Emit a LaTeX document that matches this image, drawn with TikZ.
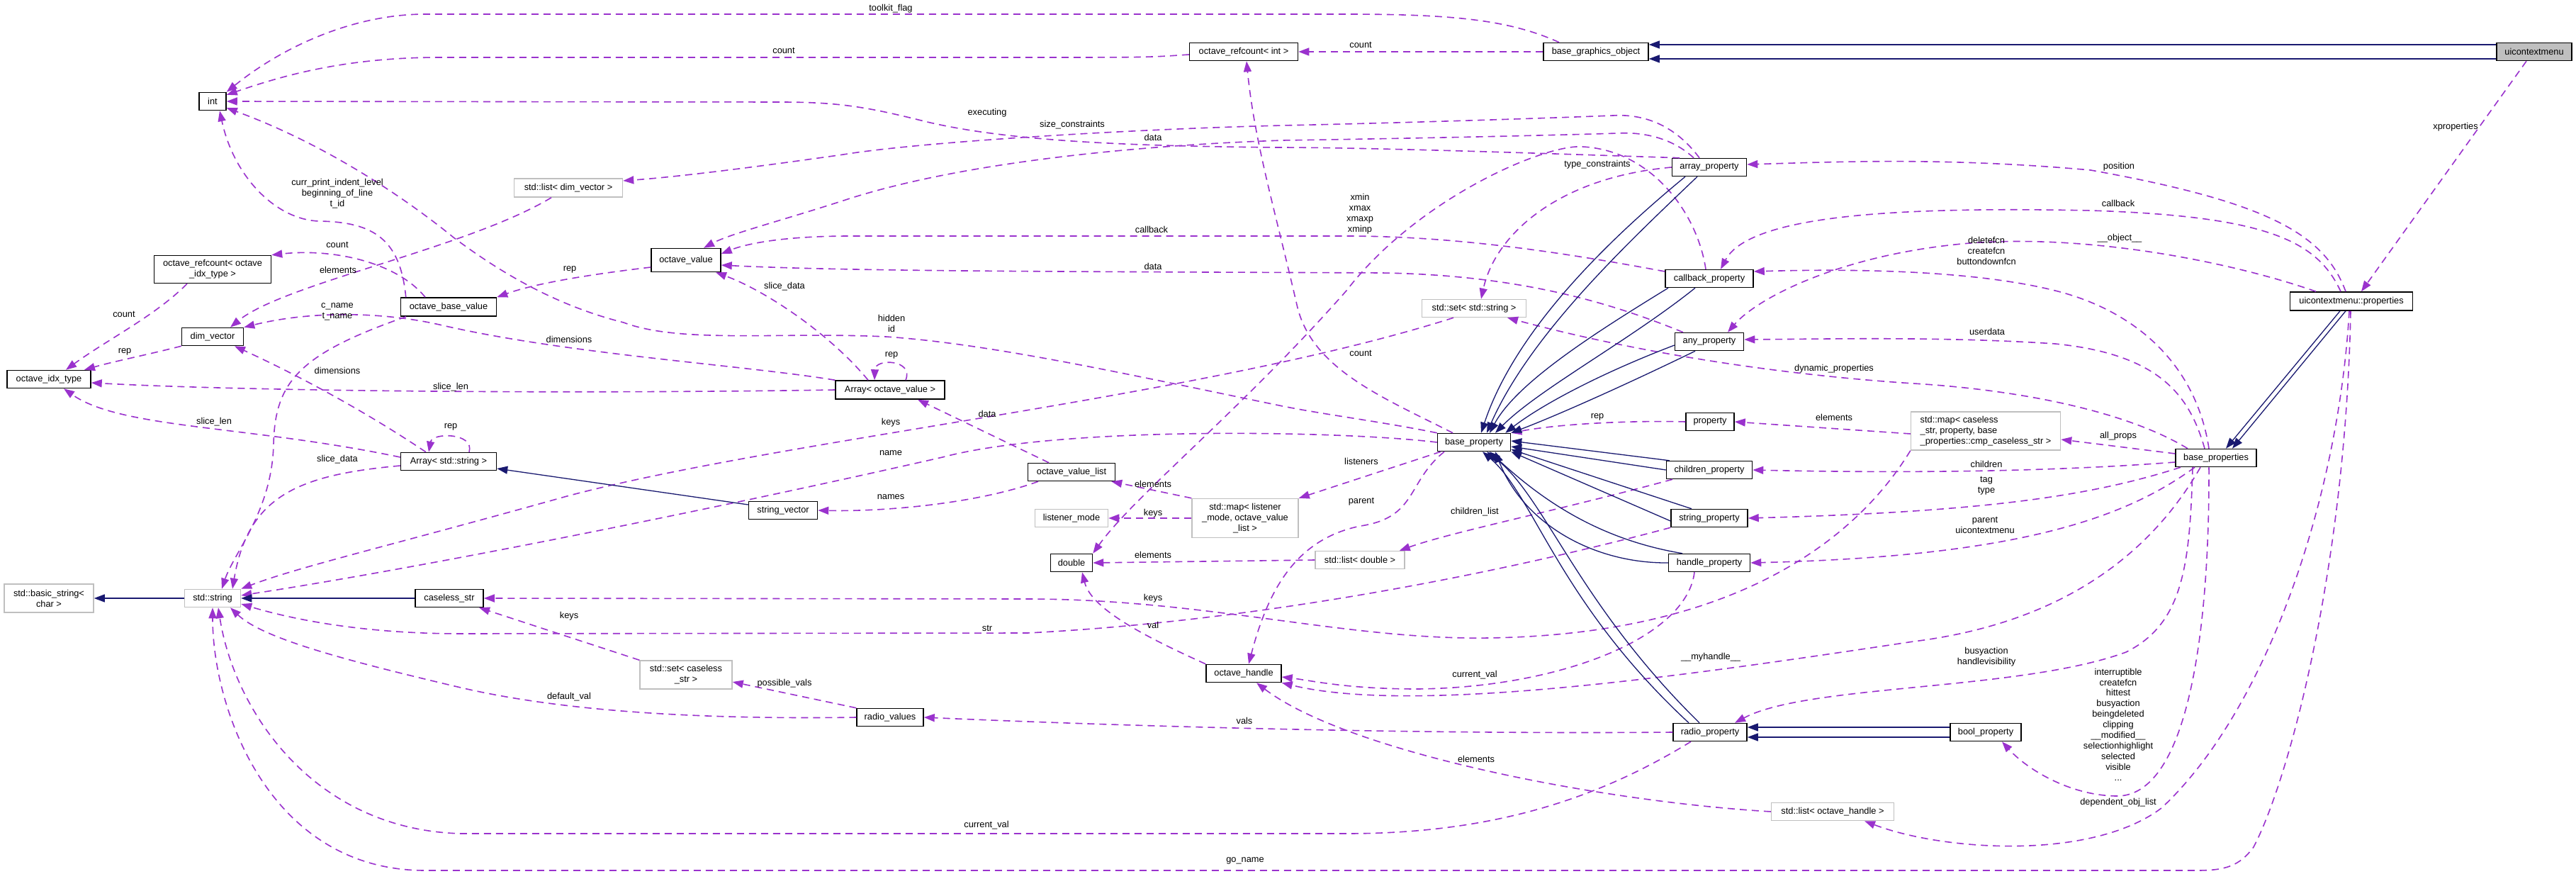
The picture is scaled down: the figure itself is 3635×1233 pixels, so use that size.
\documentclass[tikz,border=0pt]{standalone}
\usepackage{fontspec}
\setmainfont{Liberation Sans}
\usetikzlibrary{arrows.meta}
\definecolor{usecol}{HTML}{9A32CD}
\definecolor{inhcol}{HTML}{191970}
\definecolor{graycol}{HTML}{BFBFBF}
\begin{document}
\begin{tikzpicture}[x=1pt,y=-1pt,
  every node/.style={font=\fontsize{12.8}{14.9}\selectfont},
  box/.style={draw=black, line width=1.5pt, fill=white, inner sep=0pt, align=center, minimum height=25pt},
  gbox/.style={box, draw=graycol},
  use/.style={draw=usecol, line width=1.6pt, dash pattern=on 10pt off 7pt, -{Triangle[length=15pt,width=11pt]}},
  inh/.style={draw=inhcol, line width=1.3pt, -{Triangle[length=15pt,width=11pt]}},
  lbl/.style={align=center, inner sep=0pt},
]
\fill[white] (0,0) rectangle (3635,1233);
\useasboundingbox (0,0) rectangle (3635,1233);

% nodes
\node[box, minimum width=38pt] (int) at (300,143) {int};
\node[box, minimum width=153pt] (rcint) at (1755,73) {octave\_refcount< int >};
\node[box, minimum width=148pt] (bgo) at (2252,73) {base\_graphics\_object};
\node[box, minimum width=106pt, fill=graycol] (uicm) at (3576,73) {uicontextmenu};
\node[gbox, minimum width=153pt, minimum height=26pt] (sldv) at (802,265) {std::list< dim\_vector >};
\node[box, minimum width=105pt] (ap) at (2412,236) {array\_property};
\node[box, minimum width=165pt, minimum height=39pt] (rcidx) at (300,380) {octave\_refcount< octave\\\_idx\_type >};
\node[box, minimum width=98pt, minimum height=33pt] (ov) at (968,367) {octave\_value};
\node[box, minimum width=124pt] (cbp) at (2412,393) {callback\_property};
\node[box, minimum width=173pt, minimum height=26pt] (ucp) at (3318,425) {uicontextmenu::properties};
\node[box, minimum width=135pt, minimum height=26pt] (obv) at (633,433) {octave\_base\_value};
\node[box, minimum width=87pt] (dv) at (300,475) {dim\_vector};
\node[box, minimum width=118pt] (idx) at (69,535) {octave\_idx\_type};
\node[gbox, minimum width=147pt] (ss) at (2080,435) {std::set< std::string >};
\node[box, minimum width=97pt] (anyp) at (2412,482) {any\_property};
\node[box, minimum width=154pt, minimum height=26pt] (aov) at (1256,550) {Array< octave\_value >};
\node[box, minimum width=68pt] (prop) at (2413,595) {property};
\node[gbox, minimum width=211pt, minimum height=54pt, align=left] (smc) at (2802,608) {std::map< caseless\\\_str, property, base\\\_properties::cmp\_caseless\_str >};
\node[box, minimum width=114pt] (bps) at (3127,646) {base\_properties};
\node[box, minimum width=103pt] (bp) at (2080,624) {base\_property};
\node[box, minimum width=135pt] (astr) at (633,651) {Array< std::string >};
\node[box, minimum width=123pt] (ovl) at (1512,666) {octave\_value\_list};
\node[box, minimum width=121pt] (cp) at (2412,663) {children\_property};
\node[box, minimum width=97pt] (sv) at (1105,720) {string\_vector};
\node[gbox, minimum width=103pt] (lm) at (1512,731) {listener\_mode};
\node[gbox, minimum width=150pt, minimum height=55pt] (sml) at (1757,731) {std::map< listener\\\_mode, octave\_value\\\_list >};
\node[box, minimum width=108pt] (sp) at (2412,731) {string\_property};
\node[box, minimum width=59pt] (dbl) at (1512,794) {double};
\node[gbox, minimum width=126pt] (sld) at (1919,790) {std::list< double >};
\node[box, minimum width=115pt] (hp) at (2412,794) {handle\_property};
\node[gbox, minimum width=126pt, minimum height=40pt] (bsc) at (69,844) {std::basic\_string<\\char >};
\node[gbox, minimum width=79pt] (str) at (300,844) {std::string};
\node[box, minimum width=96pt] (cls) at (634,844) {caseless\_str};
\node[gbox, minimum width=130pt, minimum height=40pt] (scs) at (968,952) {std::set< caseless\\\_str >};
\node[box, minimum width=106pt] (oh) at (1755,950) {octave\_handle};
\node[box, minimum width=94pt] (rv) at (1256,1012) {radio\_values};
\node[box, minimum width=104pt] (rp) at (2413,1033) {radio\_property};
\node[box, minimum width=100pt] (boolp) at (2802,1033) {bool\_property};
\node[gbox, minimum width=173pt] (solh) at (2586,1145) {std::list< octave\_handle >};

% usage edges
\draw[use] ([xshift=-52pt]bgo.north) .. controls (2130,28) and (2050,20) .. (1900,20) -- (600,20) .. controls (500,20) and (400,65) .. (int.north east);
\draw[use] ([yshift=-4pt]rcint.west) .. controls (1620,81) .. (1450,81) -- (620,81) .. controls (480,81) and (390,110) .. (int.25);
\draw[use] (bgo.west) -- (rcint.east);
\draw[use] ([xshift=-42pt]ap.north) .. controls (2250,219) and (1950,208) .. (1800,208) .. controls (1600,206) and (1420,200) .. (1300,170) .. controls (1220,150) and (1180,144) .. (1100,144) -- (int.east);
\draw[use] (bp.north west) .. controls (1950,595) and (1870,585) .. (1810,573) .. controls (1600,530) and (1400,485) .. (1250,475) .. controls (1100,468) and (960,485) .. (880,455) .. controls (780,430) and (700,380) .. (640,335) .. controls (560,270) and (450,200) .. (int.-25);
\draw[use] ([xshift=8pt]obv.north west) .. controls (565,340) and (530,313) .. (450,312) .. controls (390,310) and (330,250) .. ([xshift=10pt]int.south);
\draw[use] ([xshift=-33pt]obv.north) .. controls (560,370) and (470,350) .. (rcidx.north east);
\draw[use] ([xshift=-36pt]rcidx.south) .. controls (220,445) and (150,480) .. ([xshift=24pt]idx.north);
\draw[use] (dv.south west) .. controls (210,500) and (160,510) .. ([xshift=50pt]idx.north);
\draw[use] ([xshift=-24pt]sldv.south) .. controls (660,350) and (400,400) .. ([xshift=25pt]dv.north);
\draw[use] (aov.north west) .. controls (1050,515) and (800,500) .. (620,458) .. controls (540,440) and (440,438) .. (dv.north east);
\draw[use] ([xshift=-31pt]aov.north) .. controls (1170,470) and (1080,410) .. ([xshift=42pt]ov.south);
\draw[use] ([xshift=22pt]aov.north) .. controls (1290,507) and (1235,505) .. ([xshift=-22pt]aov.north);
\draw[use] (aov.west) .. controls (800,556) and (350,552) .. ([yshift=-5pt]idx.east);
\draw[use] ([yshift=6pt]astr.west) .. controls (350,600) and (170,605) .. ([xshift=21pt]idx.south);
\draw[use] ([xshift=-32pt]astr.north) .. controls (500,570) and (400,520) .. ([xshift=31pt]dv.south);
\draw[use] ([xshift=29pt]astr.north) .. controls (670,610) and (610,610) .. ([xshift=-28pt]astr.north);
\draw[use] ([yshift=-6pt]astr.west) .. controls (420,670) and (350,700) .. ([xshift=28pt]str.north);
\draw[use] ([xshift=-60pt]obv.south) .. controls (420,500) and (388,540) .. (386,627) .. controls (384,720) and (330,780) .. ([xshift=13pt]str.north);
\draw[use] ([xshift=-29pt]ss.south) .. controls (1700,560) and (1100,620) .. (800,700) .. controls (550,770) and (420,800) .. (str.north east);
\draw[use] (bp.west) .. controls (1900,608) and (1500,600) .. (1330,645) .. controls (1000,720) and (600,800) .. ([yshift=4pt]str.east);
\draw[use] (sp.south west) .. controls (2150,800) and (1800,875) .. (1450,893) -- (650,894) .. controls (500,894) and (400,870) .. ([yshift=-8pt]str.east);
\draw[use] (smc.south west) .. controls (2620,760) and (2450,895) .. (2100,900) .. controls (1900,903) and (1700,845) .. (1450,845) -- (cls.east);
\draw[use] (scs.north west) -- ([xshift=42pt]cls.south);
\draw[use] (rv.west) .. controls (1000,1015) and (800,1005) .. (650,970) .. controls (480,930) and (370,900) .. ([xshift=25pt]str.south);
\draw[use] ([xshift=-27pt]rp.south) .. controls (2250,1130) and (2100,1176) .. (1900,1176) -- (650,1176) .. controls (440,1170) and (330,1000) .. ([xshift=8pt]str.south);
\draw[use] ([xshift=-1pt]ucp.south) .. controls (3310,800) and (3230,1100) .. (3180,1195) .. controls (3160,1222) and (3140,1228) .. (3100,1228) -- (600,1228) .. controls (380,1228) and (300,1000) .. (str.south);
\draw[use] ([xshift=-3pt]ucp.south) .. controls (3300,700) and (3200,1000) .. (3050,1140) .. controls (2950,1215) and (2740,1200) .. ([xshift=45pt]solh.south);
\draw[use] ([xshift=-33pt]bps.south) .. controls (3090,800) and (3080,880) .. (3000,920) .. controls (2850,975) and (2550,965) .. ([xshift=35pt]rp.north);
\draw[use] ([xshift=-10pt]bps.south) .. controls (3118,900) and (3085,1125) .. (2986,1123) .. controls (2920,1122) and (2860,1085) .. ([xshift=23pt]boolp.south);
\draw[use] ([xshift=-22pt]bps.south) .. controls (3030,790) and (2900,880) .. (2700,905) .. controls (2400,950) and (2000,1010) .. (oh.south east);
\draw[use] ([xshift=-21pt]hp.south) .. controls (2380,900) and (2200,970) .. (2000,972) .. controls (1900,972) and (1850,960) .. ([yshift=-5pt]oh.east);
\draw[use] ([xshift=-42pt]bp.south) .. controls (1985,680) and (2000,730) .. (1920,742) .. controls (1830,760) and (1790,830) .. ([xshift=7pt]oh.north);
\draw[use] (solh.west) .. controls (2250,1130) and (1900,1060) .. ([xshift=18pt]oh.south);
\draw[use] (oh.north west) .. controls (1620,900) and (1540,860) .. ([xshift=15pt]dbl.south);
\draw[use] (rp.west) .. controls (2000,1036) and (1600,1025) .. (rv.east);
\draw[use] (rv.north west) -- ([yshift=-10pt]scs.east);
\draw[use] (sld.west) -- (dbl.east);
\draw[use] ([xshift=-52pt]cp.south) .. controls (2200,720) and (2050,750) .. ([xshift=-8pt]sld.north east);
\draw[use] ([xshift=-47pt]bp.south) -- (sml.north east);
\draw[use] (sml.north west) -- ([xshift=-6pt]ovl.south east);
\draw[use] (sml.west) -- (lm.east);
\draw[use] ([xshift=-47pt]ovl.south) .. controls (1380,710) and (1250,722) .. (sv.east);
\draw[use] ([xshift=-32pt]ovl.north) -- ([xshift=39pt]aov.south);
\draw[use] ([yshift=-10pt]ov.west) .. controls (850,385) and (760,398) .. (obv.north east);
\draw[use] ([xshift=-22pt]ap.north) .. controls (2360,195) and (2320,186) .. (2283,188) .. controls (2150,192) and (1950,196) .. (1810,198) .. controls (1600,205) and (1350,230) .. (1190,283) .. controls (1100,312) and (1030,330) .. ([xshift=25pt]ov.north);
\draw[use] ([xshift=-14pt]ap.north) .. controls (2370,185) and (2330,160) .. (2276,163) .. controls (2150,168) and (1950,174) .. (1810,177) .. controls (1600,182) and (1300,200) .. (1190,218) .. controls (1050,238) and (950,250) .. ([yshift=10pt]sldv.east);
\draw[use] (ap.west) .. controls (2200,250) and (2110,330) .. ([xshift=10pt]ss.north);
\draw[use] ([xshift=-5pt]cbp.north) .. controls (2395,300) and (2330,212) .. (2233,207) .. controls (2180,203) and (2000,280) .. (1900,410) .. controls (1750,580) and (1600,700) .. (dbl.north east);
\draw[use] ([yshift=10pt]cbp.west) .. controls (2200,355) and (2050,333) .. (1900,333) -- (1200,333) .. controls (1100,333) and (1050,345) .. ([yshift=9pt]ov.east);
\draw[use] ([xshift=-37pt]anyp.north) .. controls (2280,430) and (2150,388) .. (1950,385) .. controls (1500,383) and (1200,383) .. ([yshift=-7pt]ov.east);
\draw[use] ([xshift=-30pt]bp.north) .. controls (1950,560) and (1850,520) .. (1830,430) .. controls (1800,300) and (1770,200) .. ([xshift=4pt]rcint.south);
\draw[use] (prop.west) .. controls (2300,593) and (2200,598) .. (bp.north east);
\draw[use] ([yshift=-4pt]smc.west) -- (prop.east);
\draw[use] ([xshift=-40pt]bps.north) .. controls (3000,580) and (2850,550) .. (2700,541) .. controls (2500,528) and (2300,495) .. ([xshift=47pt]ss.south);
\draw[use] ([xshift=-16pt]bps.north) .. controls (3090,560) and (3050,500) .. (2900,485) .. controls (2750,475) and (2600,478) .. ([yshift=3pt]anyp.east);
\draw[use] ([xshift=-10pt]bps.north) .. controls (3100,520) and (3020,440) .. (2900,410) .. controls (2800,385) and (2650,378) .. ([yshift=10pt]cbp.east);
\draw[use] ([xshift=-50pt]ucp.north) .. controls (3150,370) and (2950,330) .. (2780,343) .. controls (2600,358) and (2480,420) .. ([xshift=26pt]anyp.north);
\draw[use] ([xshift=-15pt]ucp.north) .. controls (3270,340) and (3200,305) .. (2950,297) .. controls (2700,292) and (2470,300) .. ([xshift=16pt]cbp.north);
\draw[use] ([xshift=-8pt]ucp.north) .. controls (3280,330) and (3200,285) .. (2950,240) .. controls (2750,222) and (2600,228) .. ([yshift=4pt]ap.east);
\draw[use] ([xshift=-11pt]uicm.south) -- ([xshift=14pt]ucp.north);
\draw[use] ([yshift=6pt]bps.west) -- ([yshift=-12pt]smc.east);
\draw[use] ([yshift=-6pt]bps.west) .. controls (2900,665) and (2700,668) .. (cp.east);
\draw[use] ([xshift=-50pt]bps.south) .. controls (2950,700) and (2800,722) .. (sp.east);
\draw[use] ([xshift=-30pt]bps.south) .. controls (3000,730) and (2850,785) .. (hp.east);

% inheritance edges
\draw[inh] ([yshift=10pt]uicm.west) -- ([yshift=10pt]bgo.east);
\draw[inh] ([yshift=-10pt]uicm.west) -- ([yshift=-10pt]bgo.east);
\draw[inh] ([xshift=-16pt]ucp.south) -- ([xshift=14pt]bps.north);
\draw[inh] ([xshift=-8pt]ucp.south) -- ([xshift=23pt]bps.north);
\draw[inh] ([xshift=-34pt]ap.south) .. controls (2280,330) and (2140,460) .. ([xshift=10pt]bp.north);
\draw[inh] ([xshift=-17pt]ap.south) .. controls (2300,340) and (2160,470) .. ([xshift=18pt]bp.north);
\draw[inh] ([xshift=-58pt]cbp.south) .. controls (2250,470) and (2140,540) .. ([xshift=22pt]bp.north);
\draw[inh] ([xshift=-20pt]cbp.south) .. controls (2300,480) and (2170,550) .. ([xshift=30pt]bp.north);
\draw[inh] ([yshift=-5pt]anyp.west) .. controls (2250,530) and (2170,575) .. ([xshift=-8pt]bp.north east);
\draw[inh] ([xshift=-20pt]anyp.south) .. controls (2300,540) and (2200,585) .. (bp.north east);
\draw[inh] ([xshift=5pt]cp.north west) -- ([yshift=2pt]bp.east);
\draw[inh] (cp.west) -- ([yshift=-6pt]bp.east);
\draw[inh] ([xshift=-25pt]sp.north) -- ([yshift=-10pt]bp.east);
\draw[inh] ([yshift=-4pt]sp.west) -- (bp.south east);
\draw[inh] ([xshift=-38pt]hp.north) .. controls (2250,760) and (2170,700) .. ([xshift=22pt]bp.south);
\draw[inh] (hp.west) .. controls (2250,795) and (2150,740) .. ([xshift=30pt]bp.south);
\draw[inh] ([xshift=-30pt]rp.north) .. controls (2200,850) and (2165,700) .. ([xshift=12pt]bp.south);
\draw[inh] ([xshift=-15pt]rp.north) .. controls (2225,850) and (2180,700) .. ([xshift=18pt]bp.south);
\draw[inh] ([yshift=7pt]boolp.west) -- ([yshift=7pt]rp.east);
\draw[inh] ([yshift=-7pt]boolp.west) -- ([yshift=-7pt]rp.east);
\draw[inh] ([yshift=8pt]sv.west) -- ([yshift=-10pt]astr.east);
\draw[inh] (cls.west) -- (str.east);
\draw[inh] (str.west) -- (bsc.east);

% labels
\node[lbl] (l1) at (1257,12) {toolkit\_flag};
\node[lbl] (l2) at (1106,71) {count};
\node[lbl] (l3) at (1920,63) {count};
\node[lbl] (l4) at (1393,159) {executing};
\node[lbl] (l5) at (1513,176) {size\_constraints};
\node[lbl] (l6) at (1627,194) {data};
\node[lbl] (l7) at (1625,324) {callback};
\node[lbl] (l8) at (1627,376) {data};
\node[lbl] (l9) at (1107,404) {slice\_data};
\node[lbl] (l10) at (476,273) {curr\_print\_indent\_level\\beginning\_of\_line\\t\_id};
\node[lbl] (l11) at (476,345) {count};
\node[lbl] (l12) at (477,381) {elements};
\node[lbl] (l13) at (804,380) {rep};
\node[lbl] (l14) at (2254,232) {type\_constraints};
\node[lbl] (l15) at (1919,302) {xmin\\xmax\\xmaxp\\xminp};
\node[lbl] (l16) at (3465,179) {xproperties};
\node[lbl] (l17) at (2990,235) {position};
\node[lbl] (l18) at (2989,287) {callback};
\node[lbl] (l19) at (2991,336) {\_\_object\_\_};
\node[lbl] (l20) at (2803,354) {deletefcn\\createfcn\\buttondownfcn};
\node[lbl] (l21) at (175,443) {count};
\node[lbl] (l22) at (476,440) {c\_name\\t\_name};
\node[lbl] (l23) at (176,496) {rep};
\node[lbl] (l24) at (476,523) {dimensions};
\node[lbl] (l25) at (803,479) {dimensions};
\node[lbl] (l26) at (636,546) {slice\_len};
\node[lbl] (l27) at (302,595) {slice\_len};
\node[lbl] (l28) at (636,602) {rep};
\node[lbl] (l29) at (476,648) {slice\_data};
\node[lbl] (l30) at (1258,456) {hidden\\id};
\node[lbl] (l31) at (1258,501) {rep};
\node[lbl] (l32) at (1393,584) {data};
\node[lbl] (l33) at (1257,596) {keys};
\node[lbl] (l34) at (1257,639) {name};
\node[lbl] (l35) at (1257,701) {names};
\node[lbl] (l36) at (1627,683) {elements};
\node[lbl] (l37) at (1627,724) {keys};
\node[lbl] (l38) at (1627,783) {elements};
\node[lbl] (l39) at (1920,498) {count};
\node[lbl] (l40) at (2588,520) {dynamic\_properties};
\node[lbl] (l41) at (2254,588) {rep};
\node[lbl] (l42) at (2588,589) {elements};
\node[lbl] (l43) at (1921,651) {listeners};
\node[lbl] (l44) at (1921,708) {parent};
\node[lbl] (l45) at (2081,722) {children\_list};
\node[lbl] (l46) at (2804,468) {userdata};
\node[lbl] (l47) at (2989,615) {all\_props};
\node[lbl] (l48) at (2803,655) {children};
\node[lbl] (l49) at (2803,685) {tag\\type};
\node[lbl] (l50) at (2801,741) {parent\\uicontextmenu};
\node[lbl] (l51) at (803,869) {keys};
\node[lbl] (l52) at (803,983) {default\_val};
\node[lbl] (l53) at (1627,844) {keys};
\node[lbl] (l54) at (1393,886) {str};
\node[lbl] (l55) at (1627,882) {val};
\node[lbl] (l56) at (1107,964) {possible\_vals};
\node[lbl] (l57) at (1756,1017) {vals};
\node[lbl] (l58) at (1392,1164) {current\_val};
\node[lbl] (l59) at (1757,1214) {go\_name};
\node[lbl] (l60) at (2414,927) {\_\_myhandle\_\_};
\node[lbl] (l61) at (2081,952) {current\_val};
\node[lbl] (l62) at (2083,1071) {elements};
\node[lbl] (l63) at (2803,927) {busyaction\\handlevisibility};
\node[lbl] (l64) at (2989,1022) {interruptible\\createfcn\\hittest\\busyaction\\beingdeleted\\clipping\\\_\_modified\_\_\\selectionhighlight\\selected\\visible\\...};
\node[lbl] (l65) at (2989,1132) {dependent\_obj\_list};
\end{tikzpicture}
\end{document}
